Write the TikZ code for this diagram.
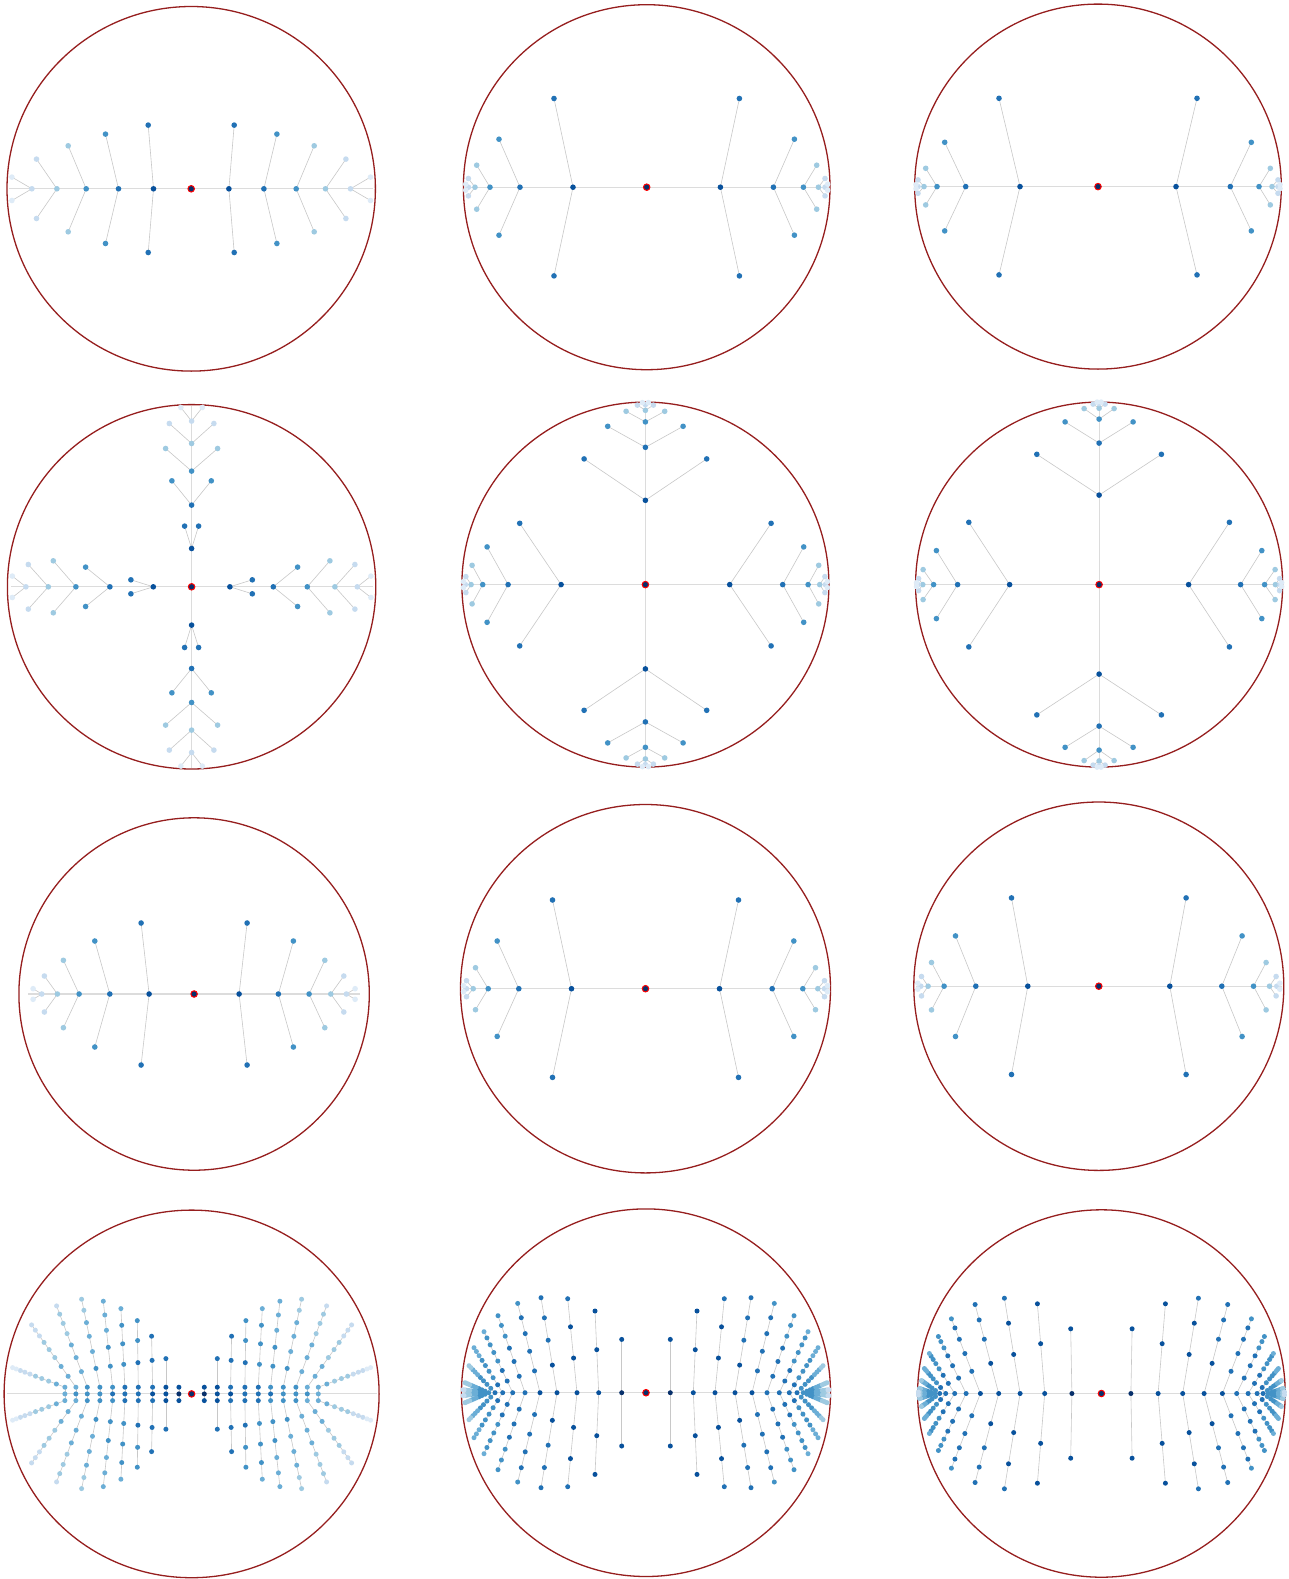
\documentclass[tikz,border=0pt]{standalone}
\usetikzlibrary{calc}
\definecolor{bc0}{HTML}{08306B}
\definecolor{bc1}{HTML}{08519C}
\definecolor{bc2}{HTML}{2171B5}
\definecolor{bc3}{HTML}{4292C6}
\definecolor{bc4}{HTML}{6BAED6}
\definecolor{bc5}{HTML}{9ECAE1}
\definecolor{bc6}{HTML}{C6DBEF}
\definecolor{bc7}{HTML}{DEEBF7}
\definecolor{bc8}{HTML}{EDF4FB}
\definecolor{rimred}{HTML}{961E1E}
\definecolor{edgegray}{HTML}{C8C8C8}
\definecolor{spinegray}{HTML}{DCDCDC}
\newif\ifdotmode
\tikzset{
  dot/.style={circle, inner sep=0pt, minimum size=5.6pt, draw=none},
  fdot/.style={circle, inner sep=0pt, minimum size=5pt, draw=none},
  rootdot/.style={circle, inner sep=0pt, minimum size=6.5pt, fill=bc0, draw=red, line width=1pt},
  rim/.style={draw=rimred, line width=1.3pt},
  branch/.style={draw=edgegray, line width=0.6pt},
  spineline/.style={draw=spinegray, line width=1.1pt},
}
% place a named node (dot mode) or a named coordinate (edge mode)
\newcommand{\mk}[3]{\ifdotmode\node[#1] (#2) at #3 {};\else\coordinate (#2) at #3;\fi}
\newcommand{\ed}[3]{\ifdotmode\else\draw[#1] (#2) -- (#3);\fi}
% #1 panel, #2 angle, #3 spine list, #4 leaf list, #5 end radius, #6 number of spine nodes
\newcommand{\treearm}[6]{%
\begin{scope}[shift={(#1c)}, rotate=#2]
  \coordinate (#1-#2-s0) at (0,0);
  \foreach \sx [count=\i] in {#3} {
    \pgfmathtruncatemacro\ci{min(8,round(\i*1.15))}
    \mk{dot, fill=bc\ci}{#1-#2-s\i}{(\sx,0)}
    \pgfmathtruncatemacro\ip{\i-1}
    \ed{spineline}{#1-#2-s\ip}{#1-#2-s\i}
  }
  \coordinate (#1-#2-end) at (#5,0);
  \ed{spineline}{#1-#2-s#6}{#1-#2-end}
  \foreach \lx/\ly [count=\i] in {#4} {
    \pgfmathtruncatemacro\ci{min(8,round((\i+1)*1.15))}
    \pgfmathsetmacro\ny{0-(\ly)}
    \mk{dot, fill=bc\ci}{#1-#2-u\i}{(\lx,\ly)}
    \mk{dot, fill=bc\ci}{#1-#2-d\i}{(\lx,\ny)}
    \ed{branch}{#1-#2-s\i}{#1-#2-u\i}
    \ed{branch}{#1-#2-s\i}{#1-#2-d\i}
  }
\end{scope}}
% #1 panel, #2 angle, #3 columns Sx/Tx/Ty, #4 band offset, #5 ratio q, #6 colour scale, #7 colour offset, #8 end radius, #9 number of columns
\newcommand{\fanside}[9]{%
\begin{scope}[shift={(#1c)}, rotate=#2]
  \coordinate (#1-#2-s0) at (0,0);
  \foreach \sx/\tx/\ty [count=\i] in {#3} {
    \pgfmathtruncatemacro\ci{max(0,min(8,\i*#6+#7))}
    \mk{fdot, fill=bc\ci}{#1-#2-s\i}{(\sx,0)}
    \pgfmathtruncatemacro\ip{\i-1}
    \ed{spineline}{#1-#2-s\ip}{#1-#2-s\i}
    \foreach \k in {1,...,\i} {
      \ifdim #4pt>0pt
        \ifnum\k=1
          \pgfmathsetmacro\px{\sx}\pgfmathsetmacro\py{0-#4}
        \else
          \pgfmathsetmacro\t{(1-#5^(\k-1))/(1-#5^(\i-1))}
          \pgfmathsetmacro\px{\sx+\t*(\tx-\sx)}
          \pgfmathsetmacro\py{0-#4+\t*(\ty+#4)}
        \fi
      \else
        \pgfmathsetmacro\t{(1-#5^\k)/(1-#5^\i)}
        \pgfmathsetmacro\px{\sx+\t*(\tx-\sx)}
        \pgfmathsetmacro\py{\t*(\ty)}
      \fi
      \pgfmathsetmacro\my{0-\py}
      \pgfmathtruncatemacro\ci{max(0,min(8,(\i+\k)*#6+#7))}
      \mk{fdot, fill=bc\ci}{#1-#2-c\i-u\k}{(\px,\py)}
      \mk{fdot, fill=bc\ci}{#1-#2-c\i-d\k}{(\px,\my)}
      \pgfmathtruncatemacro\kp{\k-1}
      \ifnum\k=1
        \ed{branch}{#1-#2-s\i}{#1-#2-c\i-u\k}
        \ed{branch}{#1-#2-s\i}{#1-#2-c\i-d\k}
      \else
        \ed{branch}{#1-#2-c\i-u\kp}{#1-#2-c\i-u\k}
        \ed{branch}{#1-#2-c\i-d\kp}{#1-#2-c\i-d\k}
      \fi
    }
  }
  \coordinate (#1-#2-end) at (#8,0);
  \ed{spineline}{#1-#2-s#9}{#1-#2-end}
\end{scope}}
\newcommand{\allpanels}{%
\foreach \a in {0,180} {
  \treearm{P1}{\a}{37.7,72.7,105,134.3,159.3}{43/-63.7,85.7/-54.7,123/-43,154.7/-29.7,179.3/-11.7}{182}{5}
  \treearm{P2}{\a}{73.7,126.7,156.7,171.7,178.3}{92.7/-88.7,147.7/-48,170/-22,178.3/-8.7,181/-3}{182}{5}
  \treearm{P3}{\a}{78,132.3,161,174,180}{99/-88.3,153.3/-44.3,172.3/-18.3,180/-6.7,182/-2}{182}{5}
  \treearm{P7}{\a}{45,84.3,115,136.7,152.3}{53/-71,99.3/-53,130.7/-33.7,149.7/-18,161/-5.3}{166}{5}
  \treearm{P8}{\a}{74,126.7,157.3,172.3,179}{93/-88.7,148.3/-47.7,170/-21,179/-8,182/-3}{183}{5}
  \treearm{P9}{\a}{71,123,154.7,170.7,178}{87.3/-88.3,143.3/-50.3,167.3/-23.7,177.3/-9.7,181/-3}{183}{5}
  \fanside{P10}{\a}{12.7/12.7/-6.7,25.7/25.7/-35.3,39/40/-57.7,53.3/54.3/-73.3,66.7/70.7/-85.3,79/88.3/-92.7,91.7/110/-94.7,104.3/135/-88,115.7/160/-69,126.7/179/-26.3}{6.7}{0.9}{0.35}{0.6}{185}{10}
  \fanside{P11}{\a}{24.3/24.3/-53.3,47.3/51/-81.7,69/78.3/-94,89/105/-95,106/128.3/-89.3,121/148/-77,133.3/162/-61,143.3/172/-45,151/177/-27,157.3/181/-10,162/183/-3}{0}{0.9}{0.26}{0.6}{183}{11}
  \fanside{P12}{\a}{29.5/30.7/-64.7,56.7/64/-89.7,81.3/97/-95.3,102.7/126.3/-89,121/150/-74.7,135.3/163/-57,146.7/172/-40,155.7/177/-25,161.7/180/-13,166.7/182/-5,170/183/-1.5}{0}{0.8}{0.25}{0.6}{182}{11}
}
\foreach \a in {0,90,180,270} {
  \treearm{P4}{\a}{38.3,81.7,115.7,143.3,165.7}{60.7/-7,106/-19.7,138.3/-26,163.3/-22.3,179.3/-10.7}{181}{5}
  \treearm{P5}{\a}{84.3,137.3,162.7,174.3,180}{125.7/-61.3,158.3/-37.7,173.3/-19.3,179.5/-8,182/-3}{181}{5}
  \treearm{P6}{\a}{89.5,141.5,165.5,176.3,181}{130.3/-62.3,162.7/-34,176/-15,180.5/-6,182.5/-2}{181}{5}
}}
\begin{document}
\begin{tikzpicture}[x=1pt,y=-1pt]
\useasboundingbox (0,0) rectangle (1288,1579);
\fill[white] (0,0) rectangle (1288,1579);
\coordinate (P1c) at (191.2,188.8);
\coordinate (P2c) at (646.7,187.2);
\coordinate (P3c) at (1098,186.6);
\coordinate (P4c) at (191.6,586.8);
\coordinate (P5c) at (645.4,584.6);
\coordinate (P6c) at (1099.1,584.6);
\coordinate (P7c) at (194.1,994);
\coordinate (P8c) at (645.5,988.7);
\coordinate (P9c) at (1098.8,986.2);
\coordinate (P10c) at (191.6,1393.9);
\coordinate (P11c) at (646,1392.7);
\coordinate (P12c) at (1101.4,1393.5);
% rims
\draw[rim] (P1c) ellipse [x radius=184.2pt, y radius=182.3pt];
\draw[rim] (P2c) ellipse [x radius=183.3pt, y radius=182.5pt];
\draw[rim] (P3c) ellipse [x radius=183.3pt, y radius=182.5pt];
\draw[rim] (P4c) ellipse [x radius=184.2pt, y radius=182.2pt];
\draw[rim] (P5c) ellipse [x radius=183.5pt, y radius=182.5pt];
\draw[rim] (P6c) ellipse [x radius=183.5pt, y radius=182.5pt];
\draw[rim] (P7c) ellipse [x radius=175.2pt, y radius=176.2pt];
\draw[rim] (P8c) ellipse [x radius=185pt, y radius=184.2pt];
\draw[rim] (P9c) ellipse [x radius=185pt, y radius=184.2pt];
\draw[rim] (P10c) ellipse [x radius=187.5pt, y radius=183.8pt];
\draw[rim] (P11c) ellipse [x radius=184.5pt, y radius=183.8pt];
\draw[rim] (P12c) ellipse [x radius=183.8pt, y radius=183.7pt];
% pass 1: connectors between named coordinates
\dotmodefalse
\allpanels
% pass 2: the named dot nodes on top
\dotmodetrue
\allpanels
% roots
\foreach \p in {P1,P2,P3,P4,P5,P6,P7,P8,P9,P10,P11,P12} {
  \node[rootdot] (\p-root) at (\p c) {};
}
\end{tikzpicture}
\end{document}
